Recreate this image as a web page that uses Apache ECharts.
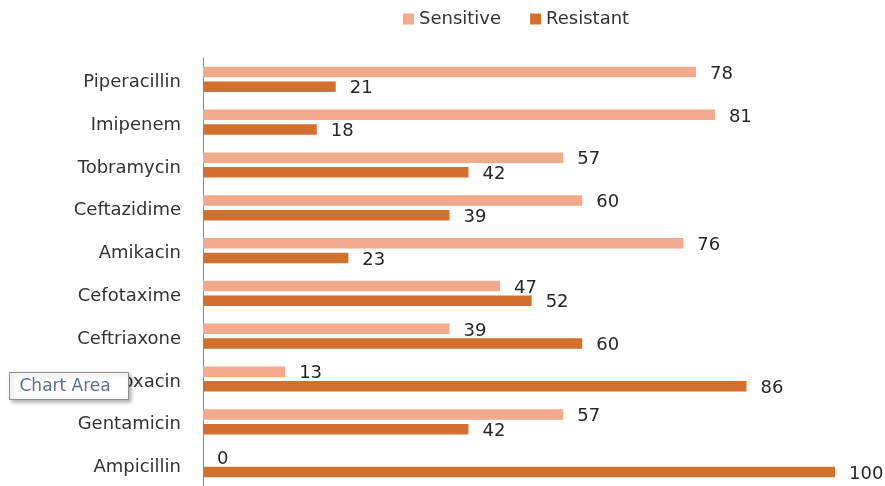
<!DOCTYPE html>
<html>
<head>
<meta charset="utf-8">
<script src="https://cdn.jsdelivr.net/npm/echarts@6/dist/echarts.min.js"></script>
<style>
html,body{margin:0;padding:0;background:#fff;}
#chart{width:885px;height:486px;}
</style>
</head>
<body>
<div id="chart"></div>
<script>
const categories = ['Piperacillin','Imipenem','Tobramycin','Ceftazidime','Amikacin','Cefotaxime','Ceftriaxone','Ciprofloxacin','Gentamicin','Ampicillin'];
const sensitive = [78, 81, 57, 60, 76, 47, 39, 13, 57, 0];
const resistant = [21, 18, 42, 39, 23, 52, 60, 86, 42, 100];
const seriesNames = ['Sensitive', 'Resistant'];

const FONT = 'DejaVu Sans';
const chart = echarts.init(document.getElementById('chart'));
const labelStyle = {
  show: true,
  position: 'right',
  distance: 14,
  offset: [0, 2],
  color: '#262626',
  fontFamily: FONT,
  fontSize: 18
};
chart.setOption({
  animation: false,
  backgroundColor: '#ffffff',
  legend: {
    data: seriesNames,
    left: 403,
    top: 10,
    padding: 0,
    icon: 'rect',
    itemWidth: 11,
    itemHeight: 11,
    itemGap: 29,
    textStyle: { fontFamily: FONT, fontSize: 18, color: '#333333' }
  },
  grid: { left: 203, right: 50, top: 58, height: 433, containLabel: false },
  xAxis: {
    type: 'value',
    min: 0,
    max: 100,
    show: false,
    splitLine: { show: false }
  },
  yAxis: {
    type: 'category',
    data: categories,
    inverse: true,
    axisLine: { show: true, lineStyle: { color: '#8a8a8a', width: 1 } },
    axisTick: { show: false },
    axisLabel: {
      margin: 22, color: '#333333', fontFamily: FONT, fontSize: 18,
      verticalAlign: 'top', lineHeight: 6
    }
  },
  series: [
    {
      name: seriesNames[0],
      type: 'bar',
      data: sensitive,
      barWidth: 10.5,
      barGap: '40%',
      itemStyle: { color: '#F3A98B' },
      label: labelStyle
    },
    {
      name: seriesNames[1],
      type: 'bar',
      data: resistant,
      barWidth: 10.5,
      barGap: '40%',
      itemStyle: { color: '#D4702D' },
      label: labelStyle
    }
  ],
  graphic: [
    {
      type: 'group',
      left: 9,
      top: 372,
      zlevel: 5,
      z: 100,
      children: [
        {
          type: 'rect',
          zlevel: 5,
          z: 100,
          shape: { x: 0, y: 0, width: 119, height: 27 },
          style: {
            fill: '#ffffff',
            stroke: '#8f8f8f',
            lineWidth: 1,
            shadowBlur: 4,
            shadowOffsetX: 2,
            shadowOffsetY: 2,
            shadowColor: 'rgba(0,0,0,0.3)'
          }
        },
        {
          type: 'text',
          zlevel: 5,
          z: 101,
          x: 10,
          y: 14,
          style: {
            text: 'Chart Area',
            fill: '#5a6f94',
            font: '17px "DejaVu Sans"',
            verticalAlign: 'middle'
          }
        }
      ]
    }
  ]
});
</script>
</body>
</html>
